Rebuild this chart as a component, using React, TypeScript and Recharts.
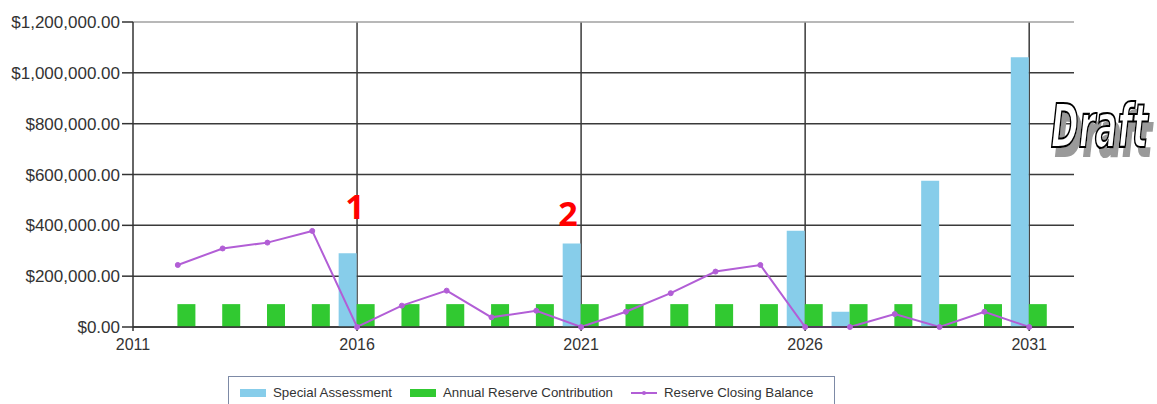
import React from 'react';
import {
  ComposedChart,
  Bar,
  Line,
  XAxis,
  YAxis,
  CartesianGrid,
  ReferenceDot,
} from 'recharts';

// Reserve study projection, one entry per fiscal year
const years = [
  2012, 2013, 2014, 2015, 2016, 2017, 2018, 2019, 2020, 2021,
  2022, 2023, 2024, 2025, 2026, 2027, 2028, 2029, 2030, 2031,
];
const specialAssessment = [
  0, 0, 0, 0, 290000, 0, 0, 0, 0, 329000,
  0, 0, 0, 0, 379000, 60000, 0, 575000, 0, 1061000,
];
const annualReserveContribution = [
  90000, 90000, 90000, 90000, 90000, 90000, 90000, 90000, 90000, 90000,
  90000, 90000, 90000, 90000, 90000, 90000, 90000, 90000, 90000, 90000,
];
const reserveClosingBalance = [
  244000, 309000, 332000, 378000, 0, 84000, 143000, 38000, 64000, 0,
  60000, 133000, 218000, 244000, 0, 0, 51000, 0, 60000, 0,
];

const yTicks = [0, 200000, 400000, 600000, 800000, 1000000, 1200000];
const xTicks = [2011, 2016, 2021, 2026, 2031];
const gridValues = [0, 200000, 400000, 600000, 800000, 1000000];

// Numbered phase markers above the assessment years
const phaseMarkers = [
  { label: '1', year: 2016, value: 478000, shift: -2 },
  { label: '2', year: 2021, value: 450000, shift: -13 },
];

const seriesInfo = [
  { key: 'specialAssessment', name: 'Special Assessment', color: '#87cdea', kind: 'bar' },
  { key: 'annualReserveContribution', name: 'Annual Reserve Contribution', color: '#31c931', kind: 'bar' },
  { key: 'reserveClosingBalance', name: 'Reserve Closing Balance', color: '#b25ed6', kind: 'line' },
];

const data = years.map((year, i) => ({
  year,
  specialAssessment: specialAssessment[i],
  annualReserveContribution: annualReserveContribution[i],
  reserveClosingBalance: reserveClosingBalance[i],
}));

const formatMoney = (v: number) =>
  '$' + v.toLocaleString('en-US', { minimumFractionDigits: 2, maximumFractionDigits: 2 });

const FONT = '"Liberation Sans", Arial, sans-serif';

const LegendBox = () => (
  <div
    style={{
      position: 'absolute',
      left: 228,
      top: 376,
      width: 607,
      height: 40,
      border: '1px solid #7d8aa6',
      display: 'flex',
      alignItems: 'flex-start',
      paddingTop: 9,
      paddingLeft: 11,
      boxSizing: 'border-box',
      fontFamily: FONT,
      fontSize: 13.3,
      color: '#333',
    }}
  >
    {seriesInfo.map((s) => (
      <div key={s.key} style={{ display: 'flex', alignItems: 'center', marginRight: 18 }}>
        <svg width={26} height={10} style={{ marginRight: 7 }}>
          {s.kind === 'bar' ? (
            <rect x={0} y={1} width={26} height={8} fill={s.color} />
          ) : (
            <g>
              <line x1={0} y1={5} x2={26} y2={5} stroke={s.color} strokeWidth={2} />
              <circle cx={13} cy={5} r={2} fill={s.color} />
            </g>
          )}
        </svg>
        <span style={{ lineHeight: '14px' }}>{s.name}</span>
      </div>
    ))}
  </div>
);

const DraftStamp = () => (
  <svg
    width={1157}
    height={404}
    style={{ position: 'absolute', left: 0, top: 0, pointerEvents: 'none' }}
  >
    <defs>
      <filter id="stampShadow" x="-20%" y="-20%" width="140%" height="140%">
        <feOffset in="SourceAlpha" dx={4} dy={5} result="off" />
        <feFlood floodColor="#9a9a9a" result="grey" />
        <feComposite in="grey" in2="off" operator="in" result="shadow" />
        <feMerge>
          <feMergeNode in="shadow" />
          <feMergeNode in="SourceGraphic" />
        </feMerge>
      </filter>
    </defs>
    <g transform="translate(1051,147) scale(1,1.85)" filter="url(#stampShadow)">
      <text
        x={0}
        y={0}
        textLength={97}
        lengthAdjust="spacingAndGlyphs"
        fontFamily='"DejaVu Sans Condensed", "DejaVu Sans", sans-serif'
        fontWeight="bold"
        fontStyle="oblique"
        fontSize={33}
        fill="#ffffff"
        stroke="#000"
        strokeWidth={1.2}
      >
        Draft
      </text>
    </g>
  </svg>
);

export default function App() {
  return (
    <div
      style={{
        position: 'absolute',
        left: 0,
        top: 0,
        width: 1157,
        height: 404,
        background: '#fff',
        overflow: 'hidden',
        fontFamily: FONT,
      }}
    >
      <ComposedChart
        width={1157}
        height={404}
        data={data}
        margin={{ top: 22, right: 83, left: 0, bottom: 47 }}
        barGap={0}
      >
        <CartesianGrid
          stroke="#3a3a3a"
          strokeWidth={1.5}
          horizontalValues={gridValues}
          verticalValues={[2016, 2021, 2026, 2031]}
        />
        <CartesianGrid
          stroke="#a0a0a0"
          strokeWidth={1.5}
          vertical={false}
          horizontalValues={[1200000]}
        />
        <XAxis
          dataKey="year"
          type="number"
          domain={[2011, 2032]}
          ticks={xTicks}
          allowDecimals={false}
          height={30}
          tickSize={4}
          tickMargin={8}
          axisLine={{ stroke: '#333', strokeWidth: 1.5 }}
          tickLine={{ stroke: '#333', strokeWidth: 1.5 }}
          tick={{ fill: '#333', fontSize: 16, fontFamily: FONT }}
        />
        <YAxis
          type="number"
          domain={[0, 1200000]}
          ticks={yTicks}
          width={133}
          tickSize={11}
          tickFormatter={formatMoney}
          axisLine={{ stroke: '#333', strokeWidth: 1.5 }}
          tickLine={{ stroke: '#333', strokeWidth: 1.5 }}
          tick={{ fill: '#333', fontSize: 17, fontFamily: FONT }}
        />
        <Bar
          dataKey="specialAssessment"
          name="Special Assessment"
          fill={seriesInfo[0].color}
          barSize={18}
          isAnimationActive={false}
        />
        <Bar
          dataKey="annualReserveContribution"
          name="Annual Reserve Contribution"
          fill={seriesInfo[1].color}
          barSize={18}
          isAnimationActive={false}
        />
        <Line
          dataKey="reserveClosingBalance"
          name="Reserve Closing Balance"
          stroke={seriesInfo[2].color}
          strokeWidth={2}
          dot={{ r: 2.5, fill: seriesInfo[2].color, stroke: seriesInfo[2].color, strokeWidth: 1 }}
          isAnimationActive={false}
        />
        {phaseMarkers.map((m) => (
          <ReferenceDot
            key={m.label}
            x={m.year}
            y={m.value}
            r={0}
            shape={(p: any) => (
              <text
                x={p.cx + m.shift}
                y={p.cy}
                textAnchor="middle"
                dominantBaseline="central"
                fill="#ff0000"
                fontSize={34}
                fontWeight="bold"
                fontFamily='"Noto Sans", sans-serif'
              >
                {m.label}
              </text>
            )}
          />
        ))}
      </ComposedChart>
      <LegendBox />
      <DraftStamp />
    </div>
  );
}
